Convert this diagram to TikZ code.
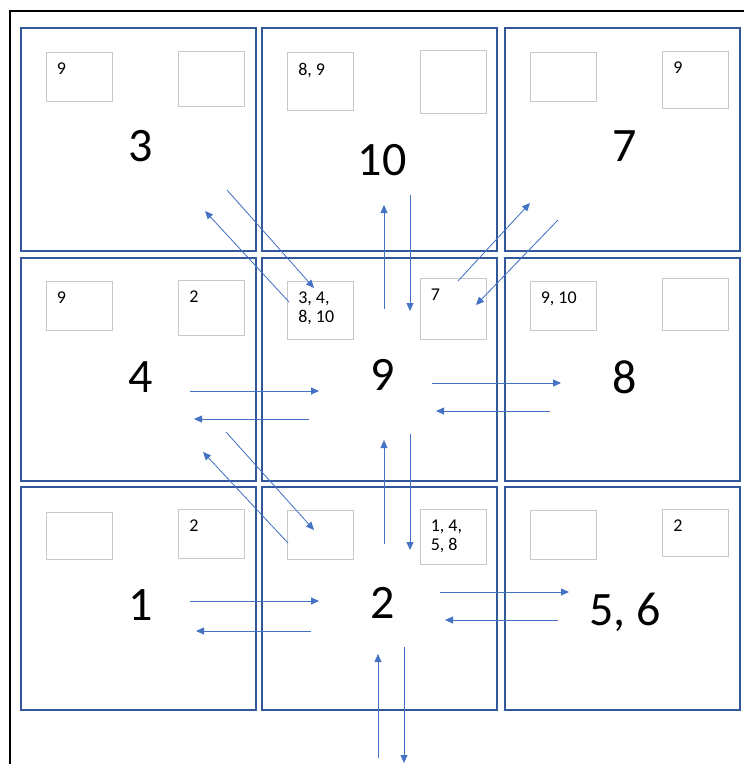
\documentclass[tikz,border=0pt]{standalone}
\usepackage{fontspec}
\setmainfont{Carlito}
\usetikzlibrary{arrows.meta}
\definecolor{cellblue}{HTML}{32579A}
\definecolor{arrowblue}{HTML}{4472C4}
\definecolor{taggray}{HTML}{C8C8C8}
\begin{document}
\begin{tikzpicture}[
    x=1pt, y=-1pt,
    cell/.style={rectangle, draw=cellblue, line width=2pt, minimum width=235pt, minimum height=223pt, inner sep=0pt},
    tag/.style={rectangle, draw=taggray, line width=0.9pt, minimum width=66pt, inner sep=0pt},
    tagtxt/.style={anchor=north west, inner sep=0pt, xshift=11pt, yshift=-11pt, align=left, font=\fontsize{18}{19}\selectfont},
    big/.style={inner sep=0pt, font=\fontsize{48}{56}\selectfont},
    arrow/.style={-{Triangle[length=8pt,width=7pt]}, draw=arrowblue, fill=arrowblue, line width=0.8pt}
]
\useasboundingbox (0,0) rectangle (744,764);
\draw[line width=1.8pt] (10,790) -- (10,11) -- (760,11);

% the nine cells
\node[cell] (c3)  at (138,139.5) {};
\node[cell] (c10) at (379.5,139.5) {};
\node[cell] (c7)  at (622,139.5) {};
\node[cell] (c4)  at (138,369) {};
\node[cell] (c9)  at (379.5,369) {};
\node[cell] (c8)  at (622,369) {};
\node[cell] (c1)  at (138,598) {};
\node[cell] (c2)  at (379.5,598) {};
\node[cell] (c56) at (622,598) {};

\node[big] (n3)  at (141,146) {3};
\node[big] (n10) at (382,160) {10};
\node[big] (n7)  at (625,146) {7};
\node[big] (n4)  at (141,377) {4};
\node[big] (n9)  at (383,375) {9};
\node[big] (n8)  at (625,377) {8};
\node[big] (n1)  at (141,605) {1};
\node[big] (n2)  at (382.5,603) {2};
\node[big] (n56) at (625,612) {5, 6};

% small boxes
\node[tag, minimum height=49pt] (t3a)  at (79,76.5) {};
\node[tag, minimum height=55pt] (t3b)  at (211.5,78.5) {};
\node[tag, minimum height=58pt] (t10a) at (320.5,81) {};
\node[tag, minimum height=63pt] (t10b) at (453,81.5) {};
\node[tag, minimum height=49pt] (t7a)  at (563.5,76.5) {};
\node[tag, minimum height=57pt] (t7b)  at (695.5,79.5) {};
\node[tag, minimum height=49pt] (t4a)  at (79,305.5) {};
\node[tag, minimum height=55pt] (t4b)  at (211.5,307.5) {};
\node[tag, minimum height=58pt] (t9a)  at (320.5,310) {};
\node[tag, minimum height=61pt] (t9b)  at (453,308.5) {};
\node[tag, minimum height=49pt] (t8a)  at (563,305.5) {};
\node[tag, minimum height=52pt] (t8b)  at (695.5,304) {};
\node[tag, minimum height=47pt] (t1a)  at (79,535.5) {};
\node[tag, minimum height=49pt] (t1b)  at (211.5,533.5) {};
\node[tag, minimum height=49pt] (t2a)  at (320.5,534.5) {};
\node[tag, minimum height=55pt] (t2b)  at (453,536.5) {};
\node[tag, minimum height=49pt] (t56a) at (563,534.5) {};
\node[tag, minimum height=47pt] (t56b) at (695.5,532.5) {};

\node[tagtxt] (l3a)  at (t3a.north west) {9};
\node[tagtxt] (l10a) at (t10a.north west) {8, 9};
\node[tagtxt] (l7b)  at (t7b.north west) {9};
\node[tagtxt] (l4a)  at (t4a.north west) {9};
\node[tagtxt] (l4b)  at (t4b.north west) {2};
\node[tagtxt] (l9a)  at (t9a.north west) {3, 4,\\8, 10};
\node[tagtxt] (l9b)  at (t9b.north west) {7};
\node[tagtxt] (l8a)  at (t8a.north west) {9, 10};
\node[tagtxt] (l1b)  at (t1b.north west) {2};
\node[tagtxt] (l2b)  at (t2b.north west) {1, 4,\\5, 8};
\node[tagtxt] (l56b) at (t56b.north west) {2};

% arrow ends
\coordinate (s3to9) at (227,190);   \coordinate (e3to9) at (314,288);
\coordinate (s9to3) at (289,302);   \coordinate (e9to3) at (205,211);
\coordinate (s9to10) at (384,309);  \coordinate (e9to10) at (384,205);
\coordinate (s10to9) at (410,195);  \coordinate (e10to9) at (410,311);
\coordinate (s9to7) at (458,281);   \coordinate (e9to7) at (530,203);
\coordinate (s7to9) at (558,220);   \coordinate (e7to9) at (476,305);
\coordinate (s4to9) at (190,391);   \coordinate (e4to9) at (319,391);
\coordinate (s9to4) at (309,419);   \coordinate (e9to4) at (194,419);
\coordinate (s9to8) at (432,383);   \coordinate (e9to8) at (561,383);
\coordinate (s8to9) at (550,411);   \coordinate (e8to9) at (436,411);
\coordinate (s4to2) at (226,432);   \coordinate (e4to2) at (314,530);
\coordinate (s2to4) at (288,543);   \coordinate (e2to4) at (203,452);
\coordinate (s2to9) at (384,544);   \coordinate (e2to9) at (384,440);
\coordinate (s9to2) at (410,434);   \coordinate (e9to2) at (410,550);
\coordinate (s1to2) at (190,601);   \coordinate (e1to2) at (319,601);
\coordinate (s2to1) at (311,631);   \coordinate (e2to1) at (196,631);
\coordinate (s2to56) at (440,592);  \coordinate (e2to56) at (569,592);
\coordinate (s56to2) at (558,620);  \coordinate (e56to2) at (445,620);
\coordinate (sinto2) at (378,758);  \coordinate (einto2) at (378,654);
\coordinate (s2out) at (404,647);   \coordinate (e2out) at (404,763);

\draw[arrow] (s3to9) -- (e3to9);
\draw[arrow] (s9to3) -- (e9to3);
\draw[arrow] (s9to10) -- (e9to10);
\draw[arrow] (s10to9) -- (e10to9);
\draw[arrow] (s9to7) -- (e9to7);
\draw[arrow] (s7to9) -- (e7to9);
\draw[arrow] (s4to9) -- (e4to9);
\draw[arrow] (s9to4) -- (e9to4);
\draw[arrow] (s9to8) -- (e9to8);
\draw[arrow] (s8to9) -- (e8to9);
\draw[arrow] (s4to2) -- (e4to2);
\draw[arrow] (s2to4) -- (e2to4);
\draw[arrow] (s2to9) -- (e2to9);
\draw[arrow] (s9to2) -- (e9to2);
\draw[arrow] (s1to2) -- (e1to2);
\draw[arrow] (s2to1) -- (e2to1);
\draw[arrow] (s2to56) -- (e2to56);
\draw[arrow] (s56to2) -- (e56to2);
\draw[arrow] (sinto2) -- (einto2);
\draw[arrow] (s2out) -- (e2out);
\end{tikzpicture}
\end{document}
